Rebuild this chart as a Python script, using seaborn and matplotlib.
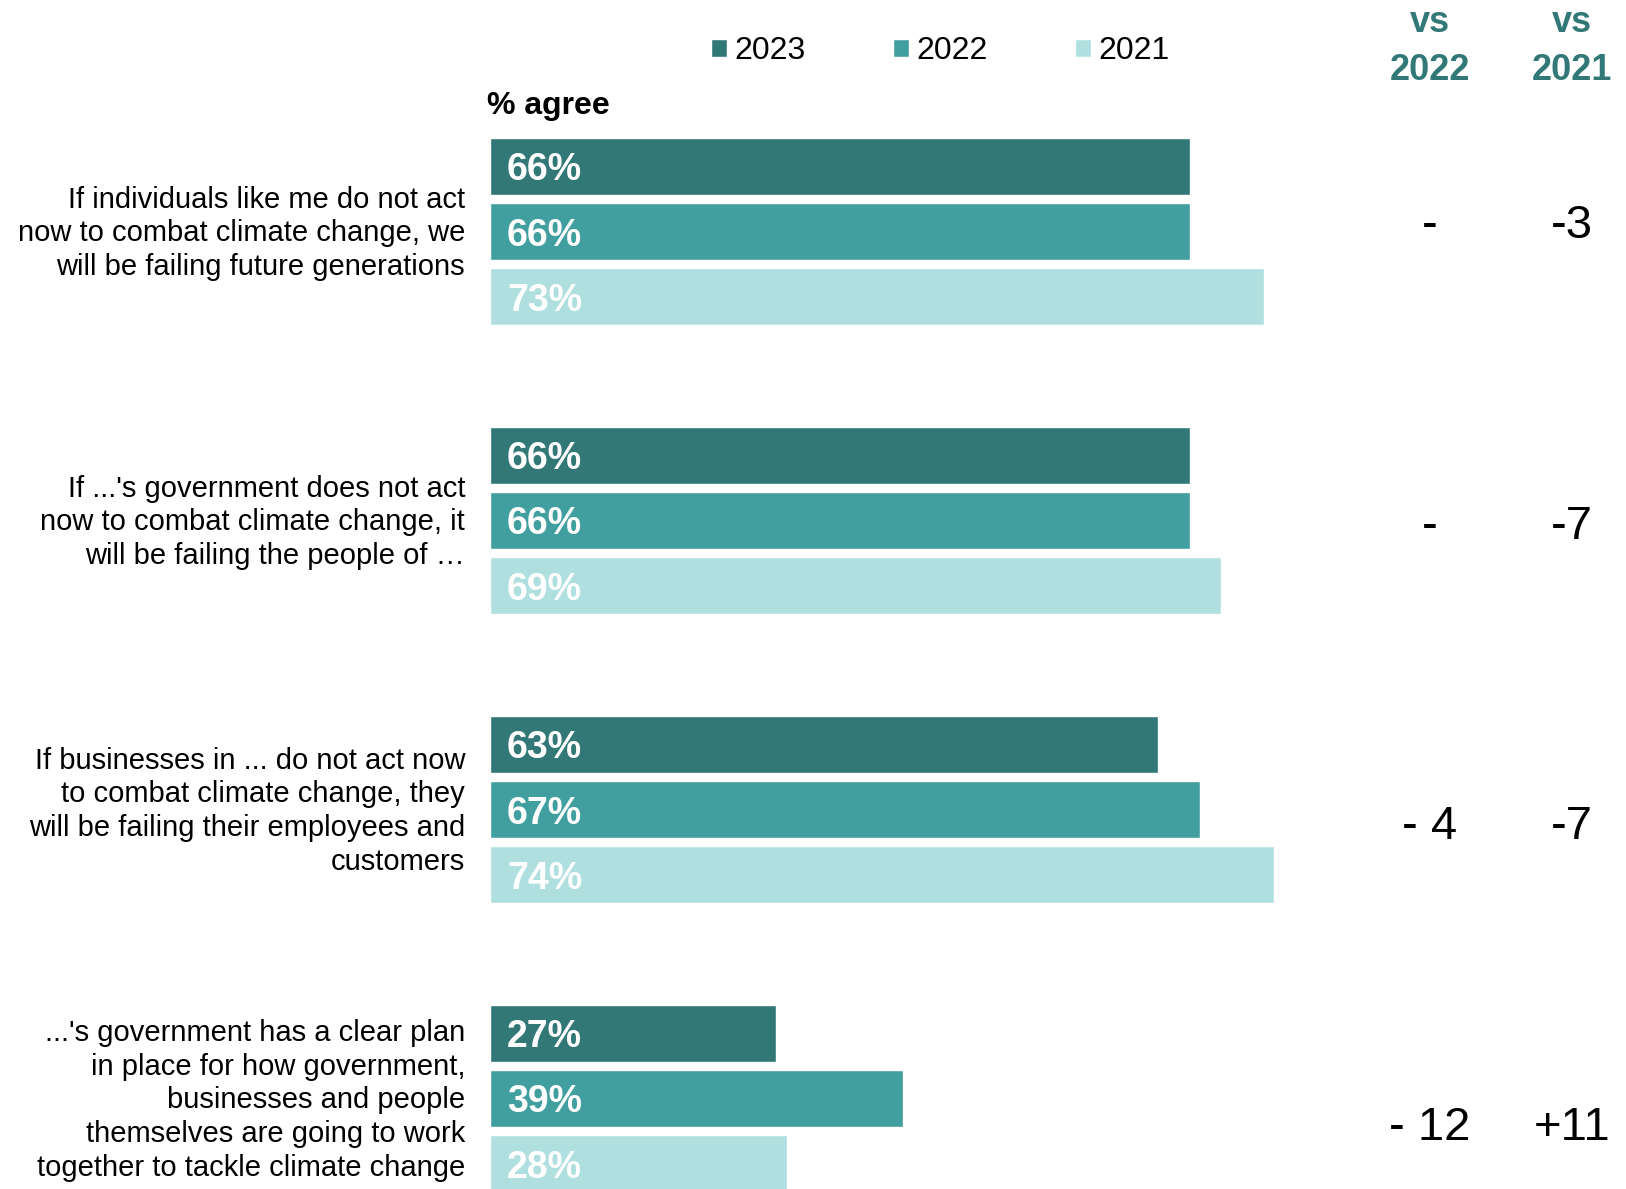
import numpy as np
import pandas as pd
import matplotlib
matplotlib.use("Agg")
import matplotlib.pyplot as plt
import seaborn as sns

# ---------------- data ----------------
statements = [
    "If individuals like me do not act\nnow to combat climate change, we\nwill be failing future generations",
    "If ...'s government does not act\nnow to combat climate change, it\nwill be failing the people of \u2026",
    "If businesses in ... do not act now\nto combat climate change, they\nwill be failing their employees and\ncustomers",
    "...'s government has a clear plan\nin place for how government,\nbusinesses and people\nthemselves are going to work\ntogether to tackle climate change",
]
years = ["2023", "2022", "2021"]
values_2023 = [66, 66, 63, 27]
values_2022 = [66, 66, 67, 39]
values_2021 = [73, 69, 74, 28]
vs_2022 = ["-", "-", "- 4", "- 12"]
vs_2021 = ["-3", "-7", "-7", "+11"]
colors = {"2023": "#317876", "2022": "#429f9f", "2021": "#b0dfdf"}
header_color = "#317876"

df = pd.DataFrame({
    "statement": statements * 3,
    "year": ["2023"] * 4 + ["2022"] * 4 + ["2021"] * 4,
    "value": values_2023 + values_2022 + values_2021,
})

# ---------------- layout ----------------
W, H = 1626, 1189
x0_px = 490
px_per_pct = 10.6
group_px = 289
first_center_px = 231.5

sns.set_theme(style="white")
plt.rcParams["font.family"] = ["Liberation Sans", "DejaVu Sans"]
plt.rcParams["text.color"] = "black"

fig = plt.figure(figsize=(W / 100, H / 100), dpi=100)
ax = fig.add_axes([x0_px / W, 0, 1 - x0_px / W, 1])

sns.barplot(data=df, y="statement", x="value", hue="year", hue_order=years,
            order=statements, palette=colors, orient="h", width=0.675,
            saturation=1, ax=ax, legend=True)

# thin white gaps between bars
bar_h = 0.2
for cont in ax.containers:
    for bar in cont:
        c = bar.get_y() + bar.get_height() / 2
        bar.set_height(bar_h)
        bar.set_y(c - bar_h / 2)
        ax.annotate(f"{bar.get_width():.0f}%", xy=(0, c), xytext=(17, 0),
                    textcoords="offset pixels", ha="left", va="center_baseline",
                    color="white", fontweight="bold", fontsize=27)

ax.set_xlim(0, (W - x0_px) / px_per_pct)
ax.set_ylim(3 + (H - (first_center_px + 3 * group_px)) / group_px,
            -first_center_px / group_px)

# category labels, nudged up slightly to centre the text block on each group
ax.set_yticks(np.arange(len(statements)) - 4 / group_px, statements)

for s in ax.spines.values():
    s.set_visible(False)
ax.xaxis.set_visible(False)
ax.set_ylabel("")
ax.set_xlabel("")
ax.tick_params(axis="y", length=0, pad=18, labelsize=21, labelcolor="black")
for t in ax.get_yticklabels():
    t.set_linespacing(1.27)
    t.set_ha("right")

# legend
handles, labels = ax.get_legend_handles_labels()
leg = ax.legend(handles, labels, ncol=3, loc="center left",
                bbox_to_anchor=(711 / W, 1 - 51 / H), bbox_transform=fig.transFigure,
                frameon=False, fontsize=23, handlelength=0.5, handleheight=0.5,
                handletextpad=0.22, columnspacing=2.75, borderaxespad=0, borderpad=0)
for t in leg.get_texts():
    t.set_color("black")

fig.text(487 / W, 1 - 106 / H, "% agree", fontweight="bold", fontsize=23,
         ha="left", va="center", color="black")

# right-hand comparison columns
col_x = [1430, 1572]
for cx, yr in zip(col_x, ["2022", "2021"]):
    fig.text(cx / W, 1 - 22 / H, "vs", fontweight="bold", fontsize=26,
             color=header_color, ha="center", va="center")
    fig.text(cx / W, 1 - 70 / H, yr, fontweight="bold", fontsize=26,
             color=header_color, ha="center", va="center")

row_y = [226, 527, 827, 1128]
for ry, a, b in zip(row_y, vs_2022, vs_2021):
    fig.text(col_x[0] / W, 1 - ry / H, a, fontsize=34, ha="center", va="center",
             color="black")
    fig.text(col_x[1] / W, 1 - ry / H, b, fontsize=34, ha="center", va="center",
             color="black")

fig.savefig("out.png", dpi=100)
